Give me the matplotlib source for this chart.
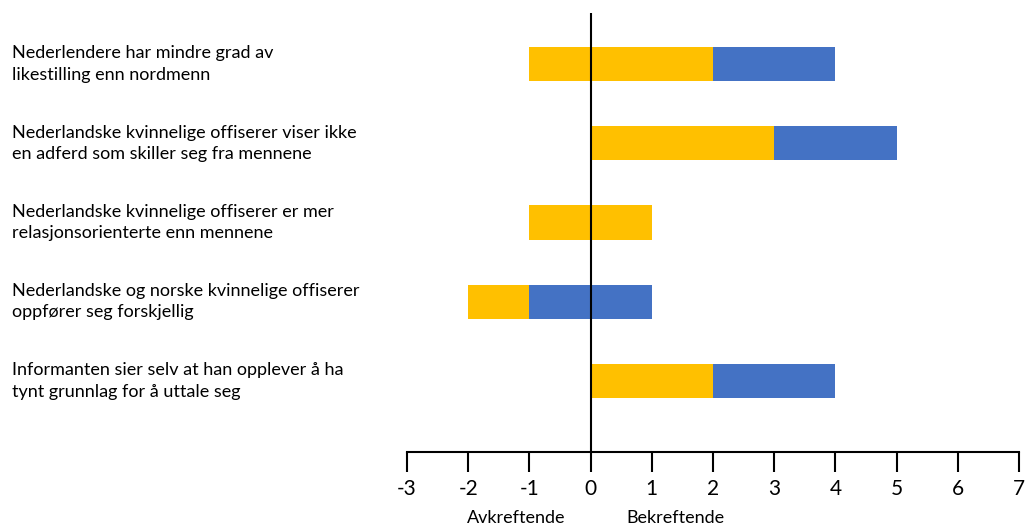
import matplotlib
matplotlib.use("Agg")
import matplotlib.pyplot as plt
import numpy as np

categories = [
    "Nederlendere har mindre grad av\nlikestilling enn nordmenn",
    "Nederlandske kvinnelige offiserer viser ikke\nen adferd som skiller seg fra mennene",
    "Nederlandske kvinnelige offiserer er mer\nrelasjonsorienterte enn mennene",
    "Nederlandske og norske kvinnelige offiserer\noppfører seg forskjellig",
    "Informanten sier selv at han opplever å ha\ntynt grunnlag for å uttale seg",
]
yellow_pos = [2, 3, 1, 0, 2]
blue_pos = [2, 2, 0, 1, 2]
blue_neg = [0, 0, 0, -1, 0]
yellow_neg = [-1, 0, -1, -1, 0]
xticks = [-3, -2, -1, 0, 1, 2, 3, 4, 5, 6, 7]

YELLOW = "#FFC000"
BLUE = "#4472C4"

plt.rcParams['font.family'] = ['Lato', 'DejaVu Sans']

W, H = 1027, 526
x_left, x_right = 407, 1019
fig = plt.figure(figsize=(W / 100, H / 100), dpi=100)
ax = fig.add_axes([x_left / W, (H - 452) / H, (x_right - x_left) / W, (452 - 13) / H])

y = np.arange(len(categories))
bh = 0.43
ax.barh(y, yellow_pos, height=bh, color=YELLOW, left=0)
ax.barh(y, blue_pos, height=bh, color=BLUE, left=yellow_pos)
ax.barh(y, blue_neg, height=bh, color=BLUE, left=0)
ax.barh(y, yellow_neg, height=bh, color=YELLOW, left=blue_neg)

ax.axvline(0, color="black", lw=1.5, zorder=3)

ax.set_xlim(-3, 7)
ax.set_ylim(4.896, -0.6435)
ax.set_xticks(xticks)
ax.set_xticklabels([str(t) for t in xticks], fontsize=15)
ax.tick_params(axis='x', direction='out', length=14.4, width=1.5, pad=5, colors='black')

ax.set_yticks(y)
ax.set_yticklabels(categories, fontsize=13, linespacing=1.42)
ax.tick_params(axis='y', length=0, pad=(x_left - 12) * 0.72)
for lab in ax.get_yticklabels():
    lab.set_ha('left')
    lab.set_va('center')

for s in ['top', 'right', 'left']:
    ax.spines[s].set_visible(False)
ax.spines['bottom'].set_linewidth(1.5)
ax.spines['bottom'].set_color('black')

fig.text(516 / W, (H - 518) / H, "Avkreftende", ha='center', va='center', fontsize=13)
fig.text(675 / W, (H - 518) / H, "Bekreftende", ha='center', va='center', fontsize=13)

fig.savefig("out.png", dpi=100, facecolor="white")
